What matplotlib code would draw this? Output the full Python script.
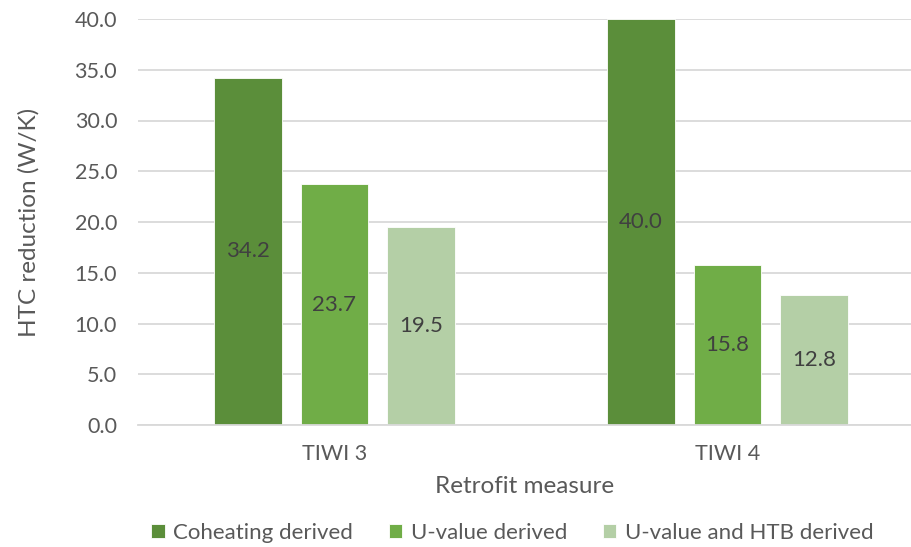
import matplotlib.pyplot as plt
import numpy as np

measures = ['TIWI 3', 'TIWI 4']
series = ['Coheating derived', 'U-value derived', 'U-value and HTB derived']
coheating = [34.2, 40.0]
uvalue = [23.7, 15.8]
uvalue_htb = [19.5, 12.8]
colors = ['#5B8E3A', '#70AD47', '#B4CFA6']

plt.rcParams['font.family'] = ['Lato', 'DejaVu Sans']

fig = plt.figure(figsize=(9.12, 5.47), dpi=100)
ax = fig.add_axes([138 / 912, 122 / 547, 774 / 912, 406 / 547])

x = np.arange(len(measures))
width = 0.173
step = 0.221
for i, (name, vals) in enumerate(zip(series, [coheating, uvalue, uvalue_htb])):
    bars = ax.bar(x + (i - 1) * step, vals, width, color=colors[i], label=name,
                  edgecolor='white', linewidth=0.6, zorder=3)
    for b, v in zip(bars, vals):
        ax.text(b.get_x() + b.get_width() / 2, v / 2, f'{v:.1f}', ha='center',
                va='center', fontsize=16, color='#404040', zorder=4)

ax.set_xlim(-0.5, -0.5 + 774 / 393)
ax.set_ylim(0, 40)
ax.set_yticks(np.arange(0, 40.1, 5))
ax.set_yticklabels([f'{v:.1f}' for v in np.arange(0, 40.1, 5)])
ax.set_xticks(x)
ax.set_xticklabels(measures)
ax.tick_params(axis='both', length=0, labelsize=15.5, colors='#595959')
ax.tick_params(axis='y', pad=15)
ax.tick_params(axis='x', pad=14)
ax.grid(axis='y', color='#D9D9D9', linewidth=1.3, zorder=0)
for s in ['top', 'right', 'left']:
    ax.spines[s].set_visible(False)
ax.spines['bottom'].set_color('#D9D9D9')
ax.spines['bottom'].set_linewidth(1.3)
ax.spines['bottom'].set_zorder(5)

ax.set_xlabel('Retrofit measure', fontsize=17.5, color='#595959', labelpad=8)
ax.set_ylabel('HTC reduction (W/K)', fontsize=17.5, color='#595959', labelpad=25)

fig.legend(loc='center', bbox_to_anchor=(0.562, 0.026), ncol=3, frameon=False,
           fontsize=16, labelcolor='#595959', handlelength=0.6, handleheight=0.6,
           handletextpad=0.4, columnspacing=1.6)

fig.savefig('out.png', dpi=100)
